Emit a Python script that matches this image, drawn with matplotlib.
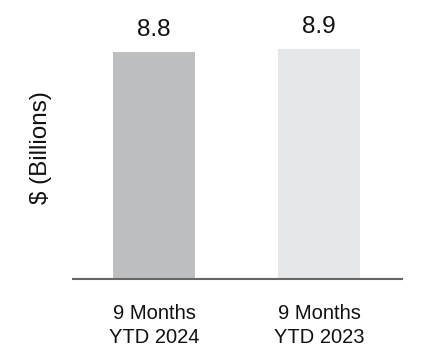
import matplotlib
matplotlib.use("Agg")
import matplotlib.pyplot as plt

# values
categories = ["9 Months\nYTD 2024", "9 Months\nYTD 2023"]
values = [8.8, 8.9]
bar_colors = ["#bdbebf", "#e6e7e8"]

plt.rcParams["font.family"] = ["Liberation Sans", "DejaVu Sans"]

fig = plt.figure(figsize=(4.22, 3.64), dpi=100)
ax = fig.add_axes([0.173, 0.2335, 0.78, 0.7665])

x = list(range(len(categories)))
bars = ax.bar(x, values, width=0.497, color=bar_colors, zorder=2)

for b, v in zip(bars, values):
    ax.annotate(f"{v:.1f}", (b.get_x() + b.get_width() / 2, v),
                xytext=(0, 8), textcoords="offset points",
                ha="center", va="bottom", fontsize=17.5, color="#111111")

ax.set_xlim(-0.491, 1.503)
ax.set_ylim(0, 10.8)
ax.set_xticks(x)
ax.set_xticklabels(categories, fontsize=14.5, color="#111111", linespacing=1.3)
ax.tick_params(axis="x", length=0, pad=18)
ax.set_yticks([])

for s in ["top", "right", "left"]:
    ax.spines[s].set_visible(False)
ax.spines["bottom"].set_color("#666666")
ax.spines["bottom"].set_linewidth(1.5)

ax.set_ylabel("$ (Billions)", fontsize=17.5, color="#111111")
ax.yaxis.set_label_coords(-0.065, 0.47)

fig.savefig("out.png", dpi=100)
